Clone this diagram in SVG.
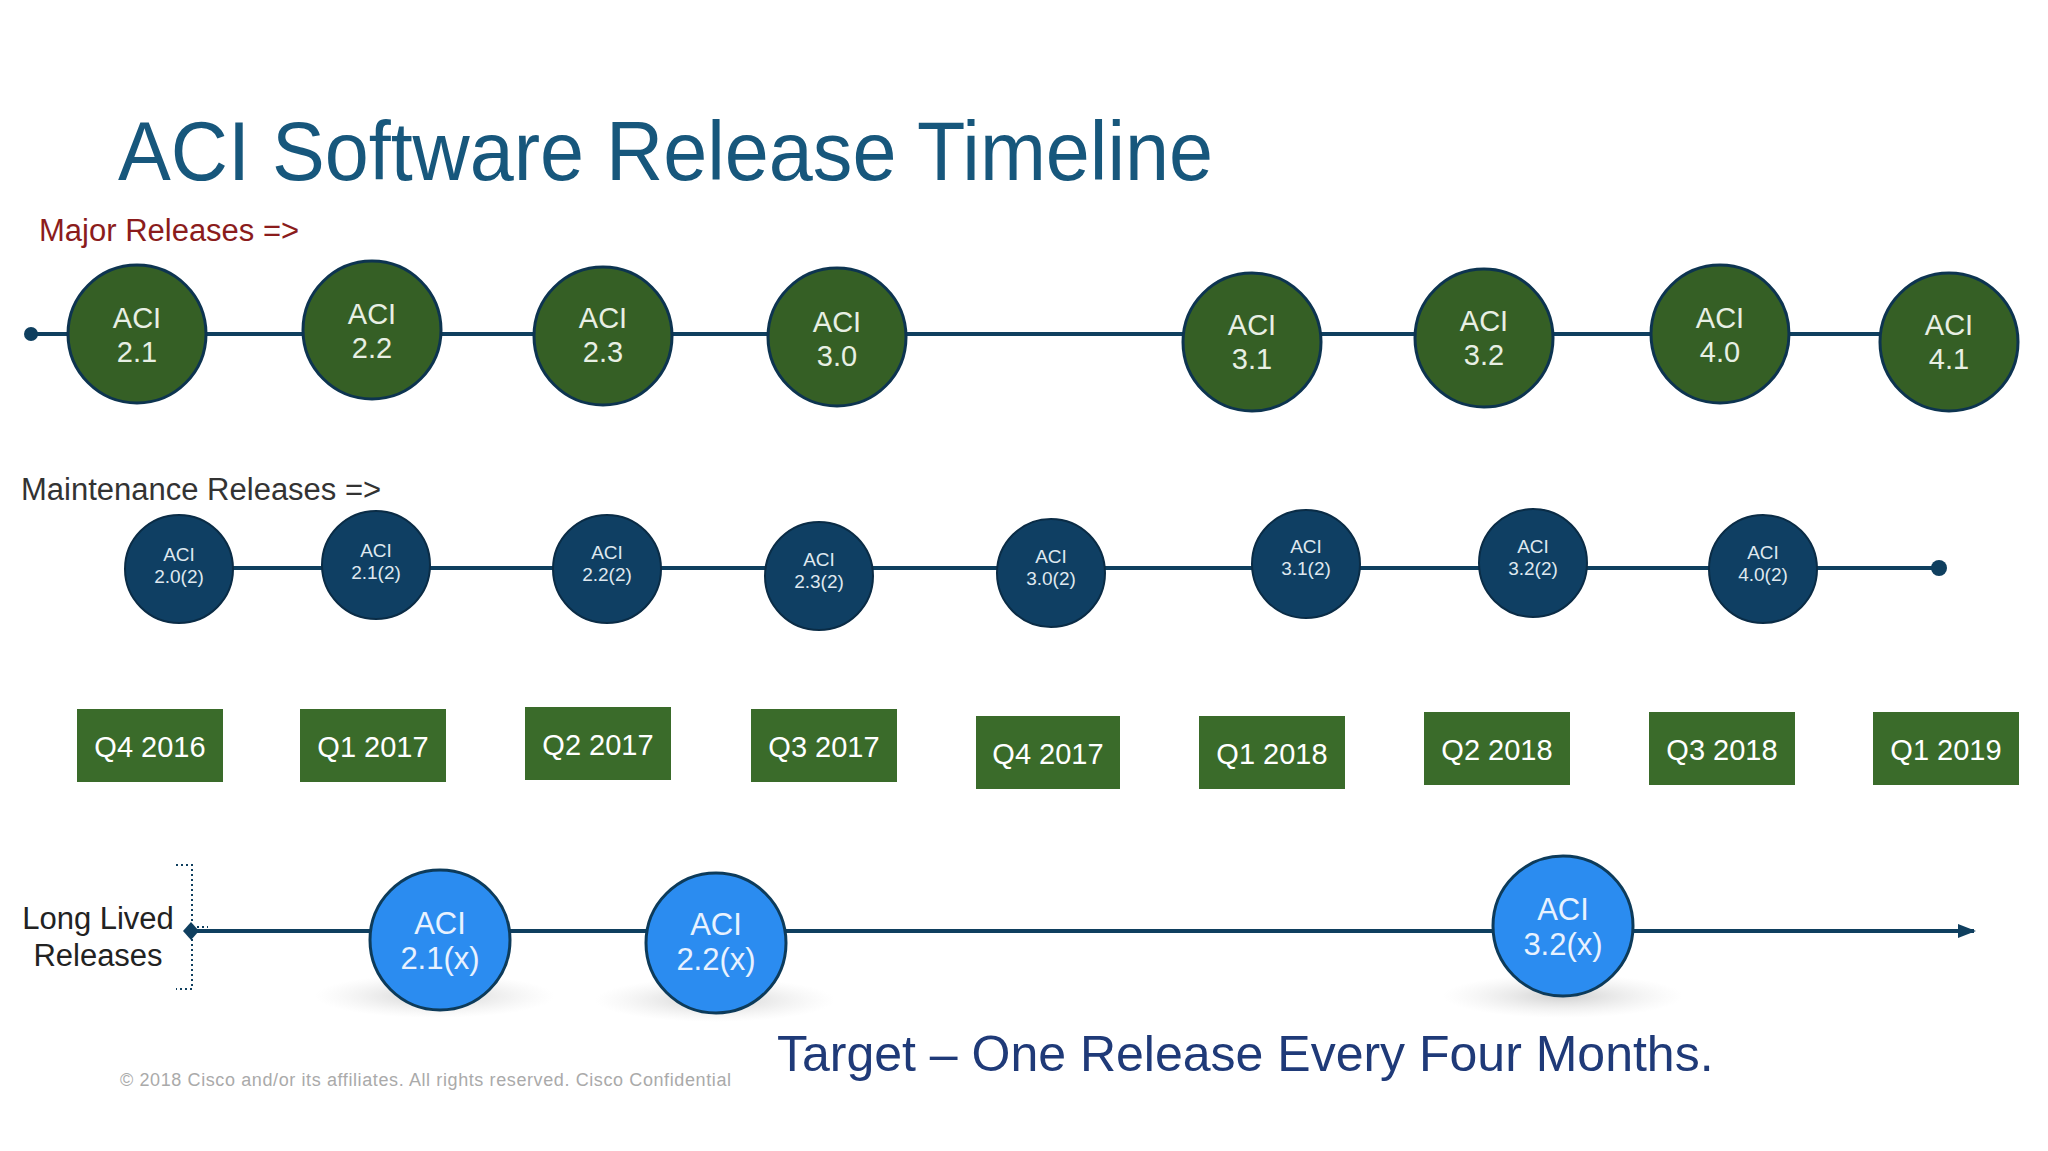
<svg xmlns="http://www.w3.org/2000/svg" width="2048" height="1151" viewBox="0 0 2048 1151">
<defs>
<style>
text{font-family:"Liberation Sans",Roboto,sans-serif}
.maj circle{fill:#355f25;stroke:#0d3450;stroke-width:3}
.maj text{fill:#e8efe4;font-size:29px;text-anchor:middle}
.mnt circle{fill:#0f3f63;stroke:#0a2c46;stroke-width:2}
.mnt text{fill:#dfe8ef;font-size:19px;text-anchor:middle}
.q rect{fill:#3a6b2a}
.q text{fill:#fff;font-size:29px;text-anchor:middle}
.ll circle{fill:#2b8cf0;stroke:#0d3b5a;stroke-width:3}
.ll text{fill:#e8f2ff;font-size:31px;text-anchor:middle}
.line{stroke:#0f3f5f;stroke-width:4;fill:none}
</style>
<radialGradient id="sh"><stop offset="0" stop-color="#bbb" stop-opacity="0.7"/><stop offset="1" stop-color="#ddd" stop-opacity="0"/></radialGradient>
<marker id="arr" markerWidth="18" markerHeight="14" refX="16" refY="7" orient="auto" markerUnits="userSpaceOnUse"><path d="M0,0 L18,7 L0,14 z" fill="#0f3f5f"/></marker>
</defs>
<rect width="2048" height="1151" fill="#fff"/>
<text x="118" y="180" font-size="84" fill="#17577c" textLength="1095" lengthAdjust="spacingAndGlyphs">ACI Software Release Timeline</text>
<text x="39" y="241" font-size="31" fill="#8b1c1c">Major Releases =&gt;</text>
<text x="21" y="500" font-size="31" fill="#333">Maintenance Releases =&gt;</text>
<g id="connectors">
<line class="line" x1="31" y1="334" x2="1900" y2="334"/>
<circle cx="31" cy="334" r="7" fill="#0f3f5f"/>
<line class="line" x1="176" y1="568" x2="1939" y2="568"/>
<circle cx="1939" cy="568" r="8" fill="#0f3f5f"/>
<line class="line" x1="190" y1="931" x2="1974" y2="931" marker-end="url(#arr)"/>
<path d="M183,931 l8,-9 l8,9 l-8,9 z" fill="#0f3f5f"/>
<path d="M176,865 h16 v124 h-16 M192,927 h16" fill="none" stroke="#0f3f5f" stroke-width="2" stroke-dasharray="2,3"/>
</g>
<g class="maj">
<g id="m21"><circle cx="137" cy="334" r="69"/><text x="137" y="328">ACI</text><text x="137" y="362">2.1</text></g>
<g id="m22"><circle cx="372" cy="330" r="69"/><text x="372" y="324">ACI</text><text x="372" y="358">2.2</text></g>
<g id="m23"><circle cx="603" cy="336" r="69"/><text x="603" y="328">ACI</text><text x="603" y="362">2.3</text></g>
<g id="m30"><circle cx="837" cy="337" r="69"/><text x="837" y="332">ACI</text><text x="837" y="366">3.0</text></g>
<g id="m31"><circle cx="1252" cy="342" r="69"/><text x="1252" y="335">ACI</text><text x="1252" y="369">3.1</text></g>
<g id="m32"><circle cx="1484" cy="338" r="69"/><text x="1484" y="331">ACI</text><text x="1484" y="365">3.2</text></g>
<g id="m40"><circle cx="1720" cy="334" r="69"/><text x="1720" y="328">ACI</text><text x="1720" y="362">4.0</text></g>
<g id="m41"><circle cx="1949" cy="342" r="69"/><text x="1949" y="335">ACI</text><text x="1949" y="369">4.1</text></g>
</g>
<g class="mnt">
<g id="n202"><circle cx="179" cy="569" r="54"/><text x="179" y="561">ACI</text><text x="179" y="583">2.0(2)</text></g>
<g id="n212"><circle cx="376" cy="565" r="54"/><text x="376" y="557">ACI</text><text x="376" y="579">2.1(2)</text></g>
<g id="n222"><circle cx="607" cy="569" r="54"/><text x="607" y="559">ACI</text><text x="607" y="581">2.2(2)</text></g>
<g id="n232"><circle cx="819" cy="576" r="54"/><text x="819" y="566">ACI</text><text x="819" y="588">2.3(2)</text></g>
<g id="n302"><circle cx="1051" cy="573" r="54"/><text x="1051" y="563">ACI</text><text x="1051" y="585">3.0(2)</text></g>
<g id="n312"><circle cx="1306" cy="564" r="54"/><text x="1306" y="553">ACI</text><text x="1306" y="575">3.1(2)</text></g>
<g id="n322"><circle cx="1533" cy="563" r="54"/><text x="1533" y="553">ACI</text><text x="1533" y="575">3.2(2)</text></g>
<g id="n402"><circle cx="1763" cy="569" r="54"/><text x="1763" y="559">ACI</text><text x="1763" y="581">4.0(2)</text></g>
</g>
<g class="q">
<g id="q416"><rect x="77" y="709" width="146" height="73"/><text x="150" y="757">Q4 2016</text></g>
<g id="q117"><rect x="300" y="709" width="146" height="73"/><text x="373" y="757">Q1 2017</text></g>
<g id="q217"><rect x="525" y="707" width="146" height="73"/><text x="598" y="755">Q2 2017</text></g>
<g id="q317"><rect x="751" y="709" width="146" height="73"/><text x="824" y="757">Q3 2017</text></g>
<g id="q417"><rect x="976" y="716" width="144" height="73"/><text x="1048" y="764">Q4 2017</text></g>
<g id="q118"><rect x="1199" y="716" width="146" height="73"/><text x="1272" y="764">Q1 2018</text></g>
<g id="q218"><rect x="1424" y="712" width="146" height="73"/><text x="1497" y="760">Q2 2018</text></g>
<g id="q318"><rect x="1649" y="712" width="146" height="73"/><text x="1722" y="760">Q3 2018</text></g>
<g id="q119"><rect x="1873" y="712" width="146" height="73"/><text x="1946" y="760">Q1 2019</text></g>
</g>
<g fill="#222" font-size="31" text-anchor="middle"><text x="98" y="929">Long Lived</text><text x="98" y="966">Releases</text></g>
<ellipse cx="435" cy="996" rx="120" ry="22" fill="url(#sh)"/>
<ellipse cx="715" cy="1000" rx="120" ry="22" fill="url(#sh)"/>
<ellipse cx="1563" cy="996" rx="120" ry="22" fill="url(#sh)"/>
<g class="ll">
<g id="l21x"><circle cx="440" cy="940" r="70"/><text x="440" y="934">ACI</text><text x="440" y="969">2.1(x)</text></g>
<g id="l22x"><circle cx="716" cy="943" r="70"/><text x="716" y="935">ACI</text><text x="716" y="970">2.2(x)</text></g>
<g id="l32x"><circle cx="1563" cy="926" r="70"/><text x="1563" y="920">ACI</text><text x="1563" y="955">3.2(x)</text></g>
</g>
<text x="777" y="1071" font-size="50" fill="#1f3a78" font-family="'Open Sans',sans-serif">Target – One Release Every Four Months.</text>
<text x="120" y="1086" font-size="18" fill="#aaa" textLength="611">© 2018  Cisco and/or its affiliates. All rights reserved.   Cisco Confidential</text>
</svg>
